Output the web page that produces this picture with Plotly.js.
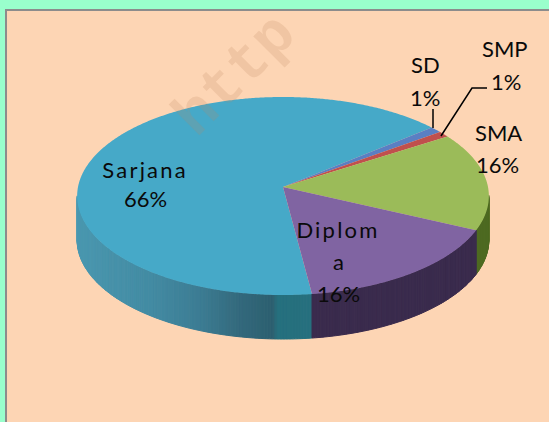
<!DOCTYPE html>
<html><head><meta charset="utf-8">
<script src="https://cdn.plot.ly/plotly-3.0.1.min.js"></script>
<style>html,body{margin:0;padding:0;background:#99ffcc}
#c{width:549px;height:422px}
.annotation[data-index="0"] .annotation-text,
.annotation[data-index="8"] .annotation-text{letter-spacing:2.2px}</style>
</head><body><div id="c"></div>
<script>
// data
const categories = ['Sarjana','SD','SMP','SMA','Diploma'];
const values = [66,1,1,16,16];
const percentLabels = ['66%','1%','1%','16%','16%'];
const sliceColors = ['#46a9c8','#5a7fc3','#c0504d','#9bbb59','#8064a2'];

// projection of the tilted pie
const cx=283, cy=187, a=205, b=98.2, k=-0.0909, depth=44, startDeg=82.6;
const rad=d=>d*Math.PI/180;
const P=d=>{const t=rad(d),w=1+k*Math.sin(t);return [cx+a*Math.cos(t)/w, cy+b*Math.sin(t)/w];};
const total=values.reduce((s,v)=>s+v,0);
const lerpHex=(c1,c2,f)=>{const p=h=>[1,3,5].map(i=>parseInt(h.substr(i,2),16));const A=p(c1),B=p(c2);
  return 'rgb('+A.map((v,i)=>Math.round(v+(B[i]-v)*f)).join(',')+')';};
const wallStops={
  Sarjana:[[76,'#4a98b0'],[150,'#438ba3'],[200,'#3c7c93'],[240,'#33697c'],[272,'#2c5f70'],[277,'#26707e'],[320,'#26707e']],
  SD:[[0,'#3f5f95'],[549,'#3f5f95']],SMP:[[0,'#803530'],[549,'#803530']],
  SMA:[[0,'#4e6a22'],[549,'#4e6a22']],Diploma:[[0,'#3a2b4d'],[549,'#3a2b4d']]
};
const wallColor=(name,x)=>{const s=wallStops[name];
  if(x<=s[0][0])return s[0][1];
  for(let i=1;i<s.length;i++){if(x<=s[i][0])return lerpHex(s[i-1][1],s[i][1],(x-s[i-1][0])/(s[i][0]-s[i-1][0]));}
  return s[s.length-1][1];};

const walls=[], tops=[];
const visLo=5.2, visHi=174.8, stripStep=0.75;
let ang=startDeg;
categories.forEach((name,i)=>{
  const sweep=values[i]/total*360, end=ang+sweep;
  // side wall strips
  for(let d=ang;d<end;d+=stripStep){
    const e=Math.min(d+stripStep,end), m=((d+e)/2)%360;
    if(m<visLo||m>visHi)continue;
    const p=P(d),q=P(e);
    const col=wallColor(name,(p[0]+q[0])/2);
    walls.push({x:[p[0],q[0],q[0],p[0],p[0]],y:[p[1],q[1],q[1]+depth,p[1]+depth,p[1]],
      type:'scatter',mode:'lines',fill:'toself',fillcolor:col,line:{color:col,width:1},hoverinfo:'skip',showlegend:false});
  }
  // top face
  const xs=[cx],ys=[cy];
  for(let d=ang;;d+=0.5){const dd=Math.min(d,end);const p=P(dd);xs.push(p[0]);ys.push(p[1]);if(dd>=end)break;}
  xs.push(cx);ys.push(cy);
  tops.push({x:xs,y:ys,type:'scatter',mode:'none',fill:'toself',fillcolor:sliceColors[i],name:name,
    hoverinfo:'skip',showlegend:false});
  ang=end;
});

const txt=(t,x,y)=>({text:t,x:x,y:y,xref:'x',yref:'y',showarrow:false,xanchor:'center',yanchor:'middle',
  font:{family:'Lato, "Open Sans", sans-serif',size:22,color:'#0a0a0a'}});
const annotations=[
  txt(categories[0],145,169),txt(percentLabels[0],145,198),
  txt(categories[1],425,64),txt(percentLabels[1],425,97),
  txt(categories[2],505,48),txt(percentLabels[2],506,81),
  txt(categories[3],498,132),txt(percentLabels[3],497,164),
  txt('Diplom',338,229),txt('a',338,261),txt(percentLabels[4],338,293),
  {text:'<b>http</b>',x:236,y:76,xref:'x',yref:'y',showarrow:false,textangle:-45,
   font:{family:'"Liberation Mono", monospace',size:60,color:'rgba(190,135,95,0.2)'}}
];
const shapes=[
  {type:'rect',xref:'x',yref:'y',x0:6,y0:10,x1:560,y1:430,fillcolor:'#fdd5b4',line:{color:'#8c8c8c',width:2},layer:'below'},
  {type:'line',xref:'x',yref:'y',x0:433,y0:109,x1:433,y1:128,line:{color:'#000',width:1.5}},
  {type:'path',xref:'x',yref:'y',path:'M 487 88 L 472 88 L 441 136',line:{color:'#000',width:1.5}}
];
Plotly.newPlot('c',[...walls,...tops],{
  width:549,height:422,margin:{l:0,r:0,t:0,b:0},
  paper_bgcolor:'#99ffcc',plot_bgcolor:'rgba(0,0,0,0)',showlegend:false,
  xaxis:{range:[0,549],visible:false,fixedrange:true},
  yaxis:{range:[422,0],visible:false,fixedrange:true},
  shapes:shapes,annotations:annotations
},{displayModeBar:false,staticPlot:true});
</script></body></html>
